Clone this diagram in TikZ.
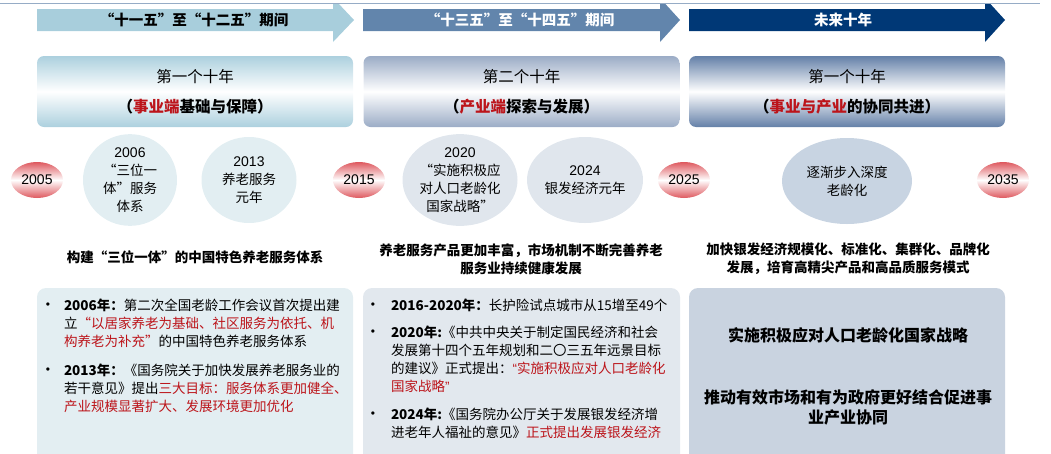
\documentclass[tikz,border=0pt]{standalone}
\usepackage{fontspec}
\setmainfont{Noto Sans CJK SC}
\newfontfamily\arl{Liberation Sans}
\usetikzlibrary{shapes.geometric}
\definecolor{arrA}{RGB}{168,206,220}
\definecolor{arrB}{RGB}{98,133,172}
\definecolor{arrC}{RGB}{0,56,118}
\definecolor{lineC}{RGB}{150,172,198}
\definecolor{edgeA}{RGB}{172,208,222}
\definecolor{edgeB}{RGB}{155,172,198}
\definecolor{edgeC}{RGB}{100,128,168}
\definecolor{redE}{RGB}{222,88,94}
\definecolor{circA}{RGB}{226,238,242}
\definecolor{circB}{RGB}{224,230,237}
\definecolor{circC}{RGB}{200,212,226}
\definecolor{bodyA}{RGB}{227,238,242}
\definecolor{bodyB}{RGB}{226,232,238}
\definecolor{bodyC}{RGB}{201,211,224}
\definecolor{tred}{RGB}{188,20,26}
\tikzset{
  every node/.style={inner sep=0pt, outer sep=0pt},
  arrlabel/.style={font=\bfseries\fontsize{14.5}{16}\selectfont},
  pbox/.style={rectangle, rounded corners=7pt, minimum width=316pt, minimum height=71pt},
  pboxA/.style={pbox, top color=edgeA, bottom color=edgeA, middle color=white},
  pboxB/.style={pbox, top color=edgeB, bottom color=edgeB, middle color=white},
  pboxC/.style={pbox, top color=edgeC, bottom color=edgeC, middle color=white},
  ptitle/.style={font=\fontsize{15.5}{18}\selectfont},
  psub/.style={font=\bfseries\fontsize{15.5}{18}\selectfont},
  yearel/.style={ellipse, minimum width=52pt, minimum height=36pt, top color=redE, bottom color=redE, middle color=white, font=\arl\fontsize{14}{16}\selectfont},
  bigel/.style={ellipse, minimum height=86pt, align=center, font=\fontsize{13.5}{18}\selectfont},
  head/.style={align=center, font=\bfseries\fontsize{13.5}{18}\selectfont},
  bbox/.style={rectangle, rounded corners=9pt, minimum height=182pt},
  bul/.style={font=\arl\fontsize{12}{14}\selectfont},
  para/.style={anchor=north west, align=left, font=\fontsize{13.5}{18}\selectfont},
  big/.style={align=center, font=\bfseries\fontsize{16}{20}\selectfont}
}
\newcommand{\yr}[1]{{\arl\fontsize{14}{18}\selectfont #1}}
\newcommand{\rd}[1]{\textcolor{tred}{#1}}
\begin{document}
\begin{tikzpicture}[x=1pt,y=-1pt]
\useasboundingbox (0,0) rectangle (1051,453);
\clip (0,0) rectangle (1051,453);
% top arrows
\fill[arrA] (37,9) -- (333,9) -- (333,3) -- (338,3) -- (354,20) -- (333,42) -- (333,31) -- (37,31) -- cycle;
\fill[arrB] (363,9) -- (660,9) -- (660,3) -- (664.5,3) -- (680,20) -- (660,42) -- (660,31) -- (363,31) -- cycle;
\fill[arrC] (689,9) -- (985,9) -- (985,3) -- (989.5,3) -- (1005,20) -- (985,42) -- (985,31) -- (689,31) -- cycle;
\draw[lineC, line width=1pt] (0,3) -- (1040,3);
\node[arrlabel] (a1) at (194,20) {“十一五”至“十二五”期间};
\node[arrlabel, text=white] (a2) at (520,20) {“十三五”至“十四五”期间};
\node[arrlabel, text=white] (a3) at (843,20) {未来十年};
% period boxes
\node[pboxA] (p1) at (195,91.5) {};
\node[pboxB] (p2) at (521.5,91.5) {};
\node[pboxC] (p3) at (847,91.5) {};
\node[ptitle] (p1t) at (195,77) {第一个十年};
\node[psub] (p1s) at (195,107) {（\rd{事业端}基础与保障）};
\node[ptitle] (p2t) at (521.5,77) {第二个十年};
\node[psub] (p2s) at (521.5,107) {（\rd{产业端}探索与发展）};
\node[ptitle] (p3t) at (847,77) {第一个十年};
\node[psub] (p3s) at (847,107) {（\rd{事业与产业}的协同共进）};
% big circles
\node[bigel, fill=circA, minimum width=94pt] (c1) at (130,180) {\yr{2006}\\“三位一\\体”服务\\体系};
\node[bigel, fill=circA, minimum width=95pt] (c2) at (249,180) {\yr{2013}\\养老服务\\元年};
\node[bigel, fill=circB, minimum width=115pt] (c3) at (460,180) {\yr{2020}\\“实施积极应\\对人口老龄化\\国家战略”};
\node[bigel, fill=circB, minimum width=116pt] (c4) at (585,180) {\yr{2024}\\银发经济元年};
\node[bigel, fill=circC, minimum width=130pt] (c5) at (847,181) {逐渐步入深度\\老龄化};
% year ellipses
\node[yearel] (y1) at (37,180) {2005};
\node[yearel] (y2) at (359,180) {2015};
\node[yearel] (y3) at (684,180) {2025};
\node[yearel] (y4) at (1003,180) {2035};
% headings
\node[head] (h1) at (195,257) {构建“三位一体”的中国特色养老服务体系};
\node[head] (h2) at (521,259) {养老服务产品更加丰富，市场机制不断完善养老\\服务业持续健康发展};
\node[head] (h3) at (848,259) {加快银发经济规模化、标准化、集群化、品牌化\\发展，培育高精尖产品和高品质服务模式};
% bottom boxes
\node[bbox, fill=bodyA, minimum width=316pt] (b1) at (195,379) {};
\node[bbox, fill=bodyB, minimum width=317pt] (b2) at (521.5,379) {};
\node[bbox, fill=bodyC, minimum width=316pt] (b3) at (847,379) {};
% box 1 text
\node[bul] (d11) at (48,306) {•};
\node[para] (t11) at (64,299) {\textbf{2006年：}第二次全国老龄工作会议首次提出建\\立\rd{“以居家养老为基础、社区服务为依托、机}\\\rd{构养老为补充”}的中国特色养老服务体系};
\node[bul] (d12) at (48,371) {•};
\node[para] (t12) at (64,364) {\textbf{2013年：}《国务院关于加快发展养老服务业的\\若干意见》提出\rd{三大目标：服务体系更加健全、}\\\rd{产业规模显著扩大、发展环境更加优化}};
% box 2 text
\node[bul] (d21) at (373,306) {•};
\node[para] (t21) at (391,299) {\textbf{2016-2020年：}长护险试点城市从15增至49个};
\node[bul] (d22) at (373,333) {•};
\node[para] (t22) at (391,326) {\textbf{2020年:}《中共中央关于制定国民经济和社会\\发展第十四个五年规划和二〇三五年远景目标\\的建议》正式提出：\rd{{\arl“}实施积极应对人口老龄化}\\\rd{国家战略{\arl”}}};
\node[bul] (d23) at (373,415) {•};
\node[para] (t23) at (391,408) {\textbf{2024年:}《国务院办公厅关于发展银发经济增\\进老年人福祉的意见》\rd{正式提出发展银发经济}};
% box 3 text
\node[big] (t31) at (848,335) {实施积极应对人口老龄化国家战略};
\node[big] (t32) at (848,407) {推动有效市场和有为政府更好结合促进事\\业产业协同};
\end{tikzpicture}
\end{document}
